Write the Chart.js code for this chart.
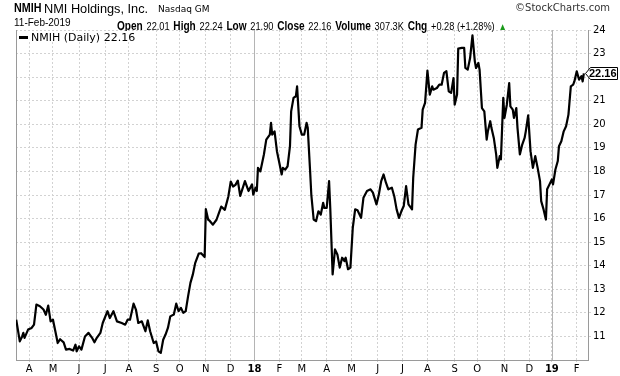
<!DOCTYPE html>
<html>
<head>
<meta charset="utf-8">
<script src="https://cdn.jsdelivr.net/npm/chart.js@4.4.0/dist/chart.umd.min.js"></script>
<style>
  body { margin: 0; background: #fff; }
  #wrap { position: relative; width: 620px; height: 376px; overflow: hidden; }
  #wrap canvas { position: absolute; left: 0; top: 0; }
  .txt { position: absolute; white-space: nowrap; color: #000; line-height: 1; transform-origin: 0 0; }
  .ls { font-family: "Liberation Sans", Arial, sans-serif; }
  .dv { font-family: "DejaVu Sans", Verdana, sans-serif; }
  .hdr2 b { font-size: 12px; }
  .hdr2 span { font-size: 11px; }
  #legend { position: absolute; left: 17px; top: 31px; height: 11px; width: 121px; background: #fff; }
  #legend i { position: absolute; left: 2px; top: 5px; width: 9px; height: 3px; background: #000; }
  #legend .txt { left: 14px; top: 1px; font-size: 11px; }
</style>
</head>
<body>
<div id="wrap">
  <canvas id="nmihChart" width="620" height="376"></canvas>

  <div class="txt ls" style="left:14px;top:2px;font-size:12.5px;font-weight:bold;transform:scaleX(0.86)">NMIH</div>
  <div class="txt ls" style="left:44px;top:2px;font-size:13px;transform:scaleX(0.98)">NMI Holdings, Inc.</div>
  <div class="txt dv" style="left:158px;top:5px;font-size:9px">Nasdaq GM</div>
  <div class="txt dv" style="right:10px;top:3px;font-size:10px;color:#333">&copy;StockCharts.com</div>

  <div class="txt ls" style="left:14px;top:17.5px;font-size:10px">11-Feb-2019</div>
  <div class="txt ls hdr2" style="left:117px;top:16.5px;transform:scaleX(0.84)">
    <b>Open</b> <span>22.01</span> <b>High</b> <span>22.24</span> <b>Low</b> <span>21.90</span>
    <b>Close</b> <span>22.16</span> <b>Volume</b> <span>307.3K</span> <b>Chg</b> <span>+0.28 (+1.28%)</span>
    <span style="color:#1a9a1a;font-size:10px">&#9650;</span>
  </div>

  <div id="legend"><i></i><div class="txt dv">NMIH (Daily) 22.16</div></div>
</div>

<script>
// month labels along the bottom, and the trading-day index where each month starts (Apr 3 2017 = 0)
const monthLabels = ["A", "M", "J", "J", "A", "S", "O", "N", "D", "18", "F", "M", "A", "M", "J", "J", "A", "S", "O", "N", "D", "19", "F"];
const monthStartDays = [0, 20, 42, 64, 84, 107, 127, 149, 170, 190, 211, 230, 251, 272, 294, 315, 336, 359, 378, 401, 422, 441, 462];
const yearLabels = ["18", "19"];

const priceTicks = [11, 12, 13, 14, 15, 16, 17, 18, 19, 20, 21, 22, 23, 24];

// daily close (trading-day index, price)
const tradeDays = [
    -11, -8, -6, -5, -4, -1, 2, 4, 6, 9, 12, 14, 16, 18, 20, 22, 24, 26, 29, 31,
    34, 37, 39, 40, 42, 44, 47, 50, 53, 55, 57, 60, 62, 66, 68, 71, 74, 78, 81, 83,
    85, 88, 90, 92, 95, 98, 100, 102, 105, 107, 109, 111, 113, 115, 117, 119, 122, 124, 126, 128,
    130, 132, 134, 136, 138, 140, 143, 145, 148, 149, 151, 152, 155, 158, 160, 162, 165, 168, 170, 172,
    174, 176, 178, 182, 185, 188, 189, 191, 192, 193, 195, 198, 200, 203, 204, 205, 207, 209, 211, 213,
    214, 216, 218, 220, 221, 223, 225, 226, 228, 230, 232, 234, 235, 237, 238, 240, 242, 244, 246, 248,
    249, 251, 253, 254, 256, 258, 260, 262, 264, 266, 267, 269, 271, 273, 275, 277, 280, 282, 285, 288,
    290, 293, 295, 297, 299, 301, 303, 306, 308, 310, 312, 314, 316, 318, 320, 323, 324, 326, 328, 331,
    332, 334, 336, 338, 340, 341, 344, 346, 348, 350, 352, 354, 356, 358, 359, 361, 362, 365, 367, 368,
    370, 372, 374, 376, 377, 379, 380, 382, 384, 386, 387, 389, 390, 392, 394, 395, 397, 398, 400, 401,
    403, 405, 406, 408, 409, 411, 412, 414, 416, 418, 419, 421, 423, 425, 427, 429, 431, 432, 434, 436,
    437, 439, 441, 442, 444, 446, 447, 449, 451, 453, 455, 457, 459, 460, 462, 464, 466, 467, 468
];
const closes = [
    11.71, 10.79, 11.0, 11.15, 10.94, 11.29, 11.36, 11.5, 12.35, 12.28, 12.14, 11.92, 12.31, 11.64, 11.71, 11.22, 10.72, 10.88, 10.75, 10.44,
    10.47, 10.4, 10.65, 10.37, 10.58, 10.44, 11.0, 11.15, 10.94, 10.75, 10.94, 11.15, 11.57, 12.07, 11.78, 12.07, 11.64, 11.57, 11.5, 11.71,
    11.71, 12.39, 12.14, 11.57, 11.64, 11.22, 11.68, 11.22, 10.72, 10.79, 10.37, 10.3, 10.86, 11.08, 11.36, 11.85, 11.93, 12.39, 12.07, 12.21,
    12.0, 12.07, 12.7, 13.27, 13.62, 14.11, 14.51, 14.53, 14.37, 16.4, 15.95, 15.92, 15.74, 15.95, 16.23, 16.51, 16.37, 16.94, 17.57, 17.36,
    17.43, 17.61, 16.96, 17.59, 17.17, 17.45, 17.02, 17.31, 17.17, 18.15, 18.0, 18.72, 19.35, 19.56, 20.06, 19.56, 19.7, 18.86, 18.37, 17.87,
    18.15, 18.08, 18.22, 19.07, 20.55, 21.12, 21.19, 21.61, 19.92, 19.56, 19.56, 20.06, 19.85, 18.01, 17.02, 15.96, 15.89, 16.31, 16.17, 16.67,
    16.45, 16.45, 17.59, 16.45, 13.63, 14.69, 14.48, 13.92, 14.34, 14.2, 14.34, 13.85, 13.92, 15.61, 16.39, 16.35, 16.03, 16.88, 17.17, 17.24,
    17.1, 16.6, 17.02, 17.59, 17.87, 17.52, 17.24, 17.31, 16.95, 16.39, 16.03, 16.31, 16.53, 17.38, 16.6, 16.39, 17.73, 19.14, 19.78, 19.85,
    20.62, 20.91, 22.28, 21.26, 21.61, 21.47, 21.54, 21.68, 21.68, 22.18, 22.25, 21.4, 21.33, 21.96, 20.83, 21.26, 23.21, 23.24, 23.24, 22.39,
    22.32, 22.81, 23.77, 22.67, 22.39, 22.6, 22.32, 20.69, 20.55, 19.35, 19.7, 20.13, 19.85, 19.42, 18.72, 18.15, 18.65, 18.51, 21.12, 20.27,
    20.83, 21.75, 20.76, 20.62, 20.27, 20.69, 19.85, 18.72, 19.14, 19.42, 19.7, 20.38, 18.86, 18.15, 18.65, 18.15, 17.59, 16.74, 16.39, 15.96,
    17.24, 17.45, 17.66, 17.45, 18.08, 18.44, 19.07, 19.28, 19.7, 19.92, 20.41, 21.61, 21.68, 21.82, 22.25, 21.89, 22.04, 21.82, 22.16
];
const lastClose = 22.16;

const gridGrey = "#d2d2d2";
const axisGrey = "#9a9a9a";

// solid darker lines at the year boundaries, plus the left frame line
const frameLines = {
    id: "frameLines",
    beforeDatasetsDraw(chart) {
        const { ctx, chartArea, scales } = chart;
        ctx.save();
        ctx.lineWidth = 1;
        ctx.strokeStyle = "#b4b4b4";
        yearLabels.forEach((lbl) => {
            const x = Math.round(scales.x.getPixelForValue(monthStartDays[monthLabels.indexOf(lbl)])) + 0.5;
            ctx.beginPath();
            ctx.moveTo(x, chartArea.top);
            ctx.lineTo(x, chartArea.bottom);
            ctx.stroke();
        });
        ctx.strokeStyle = axisGrey;
        ctx.beginPath();
        ctx.moveTo(chartArea.left + 0.5, chartArea.top);
        ctx.lineTo(chartArea.left + 0.5, chartArea.bottom);
        ctx.stroke();
        ctx.restore();
    },
};

// last price flag on the right axis
const lastPriceFlag = {
    id: "lastPriceFlag",
    afterDraw(chart) {
        const { ctx, chartArea, scales } = chart;
        const y = Math.round(scales.y.getPixelForValue(lastClose));
        const x0 = chartArea.right - 3;
        ctx.save();
        ctx.beginPath();
        ctx.moveTo(x0 + 0.5, y + 0.5);
        ctx.lineTo(x0 + 5.5, y - 5.5);
        ctx.lineTo(x0 + 32.5, y - 5.5);
        ctx.lineTo(x0 + 32.5, y + 6.5);
        ctx.lineTo(x0 + 5.5, y + 6.5);
        ctx.closePath();
        ctx.fillStyle = "#fff";
        ctx.fill();
        ctx.lineWidth = 1;
        ctx.strokeStyle = "#000";
        ctx.stroke();
        ctx.fillStyle = "#000";
        ctx.font = "bold 11px 'Liberation Sans', Arial, sans-serif";
        ctx.textBaseline = "middle";
        ctx.fillText(lastClose.toFixed(2), x0 + 4, y + 1);
        ctx.restore();
    },
};

const chartData = {
    datasets: [
        {
            data: tradeDays.map((d, i) => ({ x: d, y: closes[i] })),
            borderColor: "#000",
            borderWidth: 2.2,
            borderJoinStyle: "round",
            pointRadius: 0,
            tension: 0,
        },
    ],
};

const chartConfig = {
    type: "line",
    data: chartData,
    options: {
        responsive: false,
        animation: false,
        layout: { padding: { left: 16, top: 30, right: 0, bottom: 0 } },
        plugins: {
            legend: { display: false },
            tooltip: { enabled: false },
        },
        scales: {
            x: {
                type: "linear",
                min: -11.2,
                max: 471.5,
                afterBuildTicks: (scale) => {
                    scale.ticks = monthStartDays.map((v) => ({ value: v }));
                },
                afterFit: (scale) => {
                    scale.height = 16;
                },
                grid: { color: gridGrey, lineWidth: 1, drawTicks: true, tickLength: 2 },
                border: { display: true, color: axisGrey, dash: [2, 2] },
                ticks: {
                    autoSkip: false,
                    maxRotation: 0,
                    padding: 1,
                    color: "#000",
                    font: (c) => ({
                        family: "'DejaVu Sans', Verdana, sans-serif",
                        size: 10,
                        weight: c.tick && yearLabels.includes(monthLabels[monthStartDays.indexOf(c.tick.value)]) ? "bold" : "normal",
                    }),
                    callback: (value) => monthLabels[monthStartDays.indexOf(value)],
                },
            },
            y: {
                position: "right",
                min: 10,
                max: 24,
                afterBuildTicks: (scale) => {
                    scale.ticks = priceTicks.map((v) => ({ value: v }));
                },
                afterFit: (scale) => {
                    scale.width = 32;
                },
                grid: { color: gridGrey, lineWidth: 1, drawTicks: true, tickLength: 3 },
                border: { display: true, color: axisGrey, dash: [2, 2] },
                ticks: {
                    padding: 2,
                    color: "#000",
                    font: { family: "'DejaVu Sans', Verdana, sans-serif", size: 10 },
                },
            },
        },
    },
    plugins: [frameLines, lastPriceFlag],
};

const myChart = new Chart(document.getElementById("nmihChart"), chartConfig);
</script>
</body>
</html>
